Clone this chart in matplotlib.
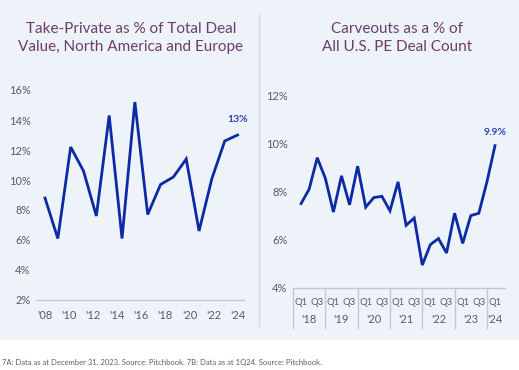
import matplotlib
matplotlib.use('Agg')
import matplotlib.pyplot as plt
import matplotlib.transforms as mtransforms
import numpy as np

plt.rcParams['font.family'] = ['Lato', 'DejaVu Sans']

# left panel: take-private share of deal value (annual)
tp_values = [8.8, 6.1, 12.2, 10.6, 7.6, 14.3, 6.1, 15.2, 7.7, 9.7, 10.2, 11.4, 6.6, 10.1, 12.6, 13.0]
tp_ticklabels = ["'08", "'10", "'12", "'14", "'16", "'18", "'20", "'22", "'24"]
tp_yticks = [2, 4, 6, 8, 10, 12, 14, 16]

# right panel: carveouts share of deal count (quarterly, Q1'18 - Q1'24)
cv_values = [7.5, 8.1, 9.4, 8.55, 7.15, 8.65, 7.45, 9.05, 7.35, 7.75, 7.8, 7.2,
             8.4, 6.6, 6.9, 4.95, 5.8, 6.05, 5.45, 7.1, 5.85, 7.0, 7.1, 8.4, 9.9]
cv_years = ["'18", "'19", "'20", "'21", "'22", "'23", "'24"]
cv_yticks = [4, 6, 8, 10, 12]

BG = '#eef2f9'
LINE = '#0b2aa6'
TITLE = '#6d3c6c'
TICK = '#555c6b'
AXIS = '#c3c9d3'

fig = plt.figure(figsize=(5.19, 3.70), dpi=100)
fig.patch.set_facecolor('white')
fig.add_artist(plt.Rectangle((0, 30 / 370), 1, 340 / 370, transform=fig.transFigure,
                             facecolor=BG, edgecolor='none', zorder=0))
# divider between the two panels
fig.add_artist(plt.Line2D([259 / 519, 259 / 519], [44 / 370, 355 / 370],
                          transform=fig.transFigure, color='#d3d8e0', lw=1))

fig.text(131 / 519, 1 - 38 / 370, 'Take-Private as % of Total Deal\nValue, North America and Europe',
         ha='center', va='center', color=TITLE, fontsize=11, linespacing=1.45)
fig.text(397 / 519, 1 - 38 / 370, 'Carveouts as a % of\nAll U.S. PE Deal Count',
         ha='center', va='center', color=TITLE, fontsize=11, linespacing=1.45)
fig.text(2 / 519, 1 - 362 / 370,
         '7A: Data as at December 31, 2023. Source: Pitchbook. 7B: Data as at 1Q24. Source: Pitchbook.',
         ha='left', va='center', color='#5a5f6a', fontsize=5.5)


def style(ax):
    ax.set_facecolor('none')
    for s in ['top', 'right', 'left']:
        ax.spines[s].set_visible(False)
    ax.spines['bottom'].set_color(AXIS)
    ax.spines['bottom'].set_linewidth(1)
    ax.tick_params(length=0, colors=TICK, labelsize=8)


# left chart
ax1 = fig.add_axes([36 / 519, 70 / 370, 208 / 519, 214.5 / 370])
style(ax1)
x1 = np.arange(len(tp_values))
ax1.plot(x1, tp_values, color=LINE, lw=2, solid_joinstyle='miter')
ax1.set_xlim(-0.7, 15.5)
ax1.set_ylim(2, 16.3)
ax1.set_xticks(np.linspace(0, len(tp_values) - 1, len(tp_ticklabels)))
ax1.set_xticklabels(tp_ticklabels)
ax1.set_yticks(tp_yticks)
ax1.set_yticklabels([f'{v}%' for v in tp_yticks])
ax1.tick_params(axis='x', pad=7)
ax1.tick_params(axis='y', pad=4)
ax1.annotate(f'{tp_values[-1]:.0f}%', (x1[-1], tp_values[-1]), xytext=(0, 8),
             textcoords='offset points', ha='center', va='bottom',
             color='#2a44b5', fontsize=7.5, fontweight='bold')

# right chart
ax2 = fig.add_axes([293 / 519, 82 / 370, 211.7 / 519, 197.8 / 370])
style(ax2)
x2 = np.arange(len(cv_values))
ax2.plot(x2, cv_values, color=LINE, lw=2, solid_joinstyle='miter')
ax2.set_xlim(-1, 25.2)
ax2.set_ylim(4, 12.2)
ax2.set_xticks([])
ax2.set_yticks(cv_yticks)
ax2.set_yticklabels([f'{v}%' for v in cv_yticks])
ax2.tick_params(axis='y', pad=4)
ax2.annotate(f'{cv_values[-1]:.1f}%', (x2[-1], cv_values[-1]), xytext=(0, 6),
             textcoords='offset points', ha='center', va='bottom',
             color='#2a44b5', fontsize=7.5, fontweight='bold')

trans = mtransforms.blended_transform_factory(ax2.transData, ax2.transAxes)
for k, yr in enumerate(cv_years):
    q1 = 4 * k
    ax2.plot([q1 - 1, q1 - 1], [0, -0.2], transform=trans, color=AXIS, lw=1, clip_on=False)
    ax2.text(q1, -0.072, 'Q1', transform=trans, ha='center', va='center', color=TICK, fontsize=6.8)
    if q1 + 2 < len(cv_values):
        ax2.text(q1 + 2, -0.072, 'Q3', transform=trans, ha='center', va='center', color=TICK, fontsize=6.8)
        ax2.text(q1 + 1, -0.158, yr, transform=trans, ha='center', va='center', color=TICK, fontsize=8)
    else:
        ax2.text(q1, -0.158, yr, transform=trans, ha='center', va='center', color=TICK, fontsize=8)

fig.savefig('out.png', dpi=100, facecolor='white')
